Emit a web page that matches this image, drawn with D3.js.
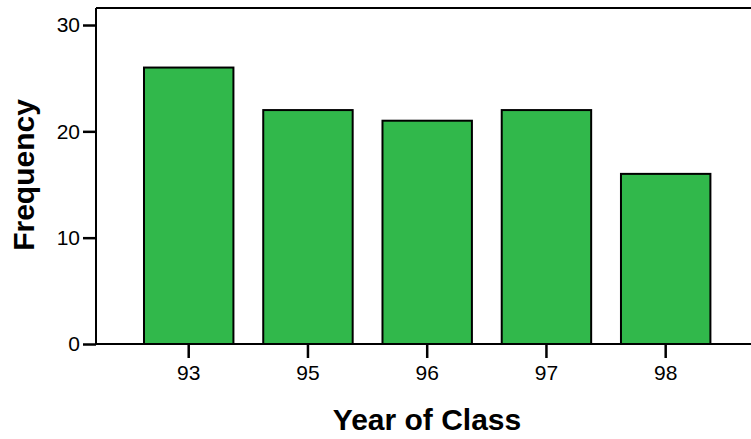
<!DOCTYPE html>
<html><head><meta charset="utf-8">
<script src="https://cdn.jsdelivr.net/npm/d3@7"></script>
<style>body{margin:0;background:#fff}svg{display:block}text{font-family:"Liberation Sans",Arial,sans-serif}</style>
</head><body>
<script>
const categories = ["93","95","96","97","98"];
const frequencies = [26,22,21,22,16];
const yTicks = [0,10,20,30];

const W=751,H=439;
const svg=d3.select("body").append("svg").attr("width",W).attr("height",H);
const x=d3.scaleBand().domain(categories).range([96,758.4]).paddingInner(0.25).paddingOuter(0.4025);
const y=d3.scaleLinear().domain([0,31.6]).range([344,8]);

svg.selectAll("rect.bar").data(categories).enter().append("rect")
  .attr("x",d=>x(d)).attr("width",x.bandwidth())
  .attr("y",(d,i)=>y(frequencies[i])).attr("height",(d,i)=>y(0)-y(frequencies[i]))
  .attr("fill","#31b84b").attr("stroke","#000").attr("stroke-width",2);

// top border
svg.append("line").attr("x1",96).attr("x2",W).attr("y1",8).attr("y2",8).attr("stroke","#000").attr("stroke-width",2);

const ya=svg.append("g").attr("transform","translate(96,0)")
  .call(d3.axisLeft(y).tickValues(yTicks).tickSize(13).tickPadding(3).tickSizeOuter(0));
ya.attr("font-size",21).attr("font-family","Liberation Sans, Arial, sans-serif");
ya.select(".domain").attr("stroke-width",2).attr("d","M0,8V344");
ya.selectAll(".tick line").attr("stroke-width",2.5);
ya.selectAll("text").attr("fill","#000");

const xa=svg.append("g").attr("transform","translate(0,344)")
  .call(d3.axisBottom(x).tickSize(14).tickPadding(7).tickSizeOuter(0));
xa.attr("font-size",21).attr("font-family","Liberation Sans, Arial, sans-serif");
xa.select(".domain").attr("d","M96,0H"+W).attr("stroke-width",2);
xa.selectAll(".tick line").attr("stroke-width",2.5);
xa.selectAll("text").attr("fill","#000");

svg.append("text").attr("x",427).attr("y",430).attr("text-anchor","middle")
  .attr("font-size",30).attr("font-weight","bold").text("Year of Class");
svg.append("text").attr("transform","translate(34,175) rotate(-90)").attr("text-anchor","middle")
  .attr("font-size",30).attr("font-weight","bold").text("Frequency");
</script>
</body></html>
